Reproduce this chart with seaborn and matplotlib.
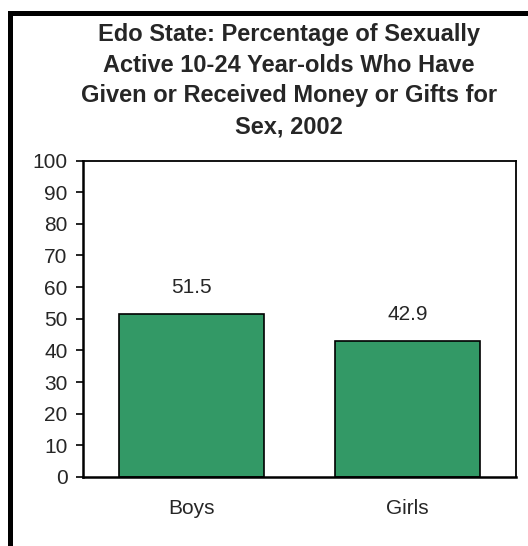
import matplotlib
matplotlib.use("Agg")
import matplotlib.pyplot as plt
import seaborn as sns
import pandas as pd
from matplotlib.patches import Rectangle
from matplotlib.ticker import FixedLocator

categories = ["Boys", "Girls"]
values = [51.5, 42.9]
value_labels = ["51.5", "42.9"]
yticks = [0, 10, 20, 30, 40, 50, 60, 70, 80, 90, 100]
title = ("Edo State: Percentage of Sexually\nActive 10-24 Year-olds Who Have\n"
         "Given or Received Money or Gifts for\nSex, 2002")

sns.set_style("white")
plt.rcParams['font.family'] = ['Liberation Sans', 'DejaVu Sans']

W, H = 528, 546
fig = plt.figure(figsize=(W / 100, H / 100), dpi=100)
ax = fig.add_axes([83 / W, 1 - 477 / H, (516 - 83) / W, (477 - 160.5) / H])

df = pd.DataFrame({"cat": categories, "val": values})
sns.barplot(data=df, x="cat", y="val", ax=ax, color="#339966", saturation=1,
            width=0.67, edgecolor="black", linewidth=1.2)

FS = 15
ax.set_ylim(0, 100)
ax.set_xlim(-0.5, 1.5)
ax.set_yticks(yticks)
ax.set_yticklabels([str(t) for t in yticks], fontsize=FS)
ax.set_xticks(range(len(categories)))
ax.set_xticklabels(categories, fontsize=FS)
ax.xaxis.set_minor_locator(FixedLocator([-0.5, 0.5, 1.5]))
ax.tick_params(axis="x", which="major", length=0, pad=16)
ax.tick_params(axis="x", which="minor", length=5, width=1.5, direction="out", color="black")
ax.tick_params(axis="y", which="major", length=5, width=1.2, direction="out", color="black", pad=6, left=True)
ax.set_xlabel("")
ax.set_ylabel("")

for s in ["left", "bottom"]:
    ax.spines[s].set_linewidth(1.8)
    ax.spines[s].set_color("black")
for s in ["top", "right"]:
    ax.spines[s].set_visible(True)
    ax.spines[s].set_linewidth(1.3)
    ax.spines[s].set_color("black")

for i, (v, lab) in enumerate(zip(values, value_labels)):
    ax.annotate(lab, (i, v), xytext=(0, 19), textcoords="offset points",
                ha="center", va="center", fontsize=FS)

fig.text(289 / W, 1 - 80.5 / H, title, ha="center", va="center",
         fontsize=17, fontweight="bold", linespacing=1.44)

rect = Rectangle((9.5 / W, -0.1), 1.2, 1 - 12.5 / H + 0.1, transform=fig.transFigure,
                 fill=False, edgecolor="black", linewidth=3.6, clip_on=False)
fig.add_artist(rect)

fig.savefig("out.png", dpi=100, facecolor="white")
